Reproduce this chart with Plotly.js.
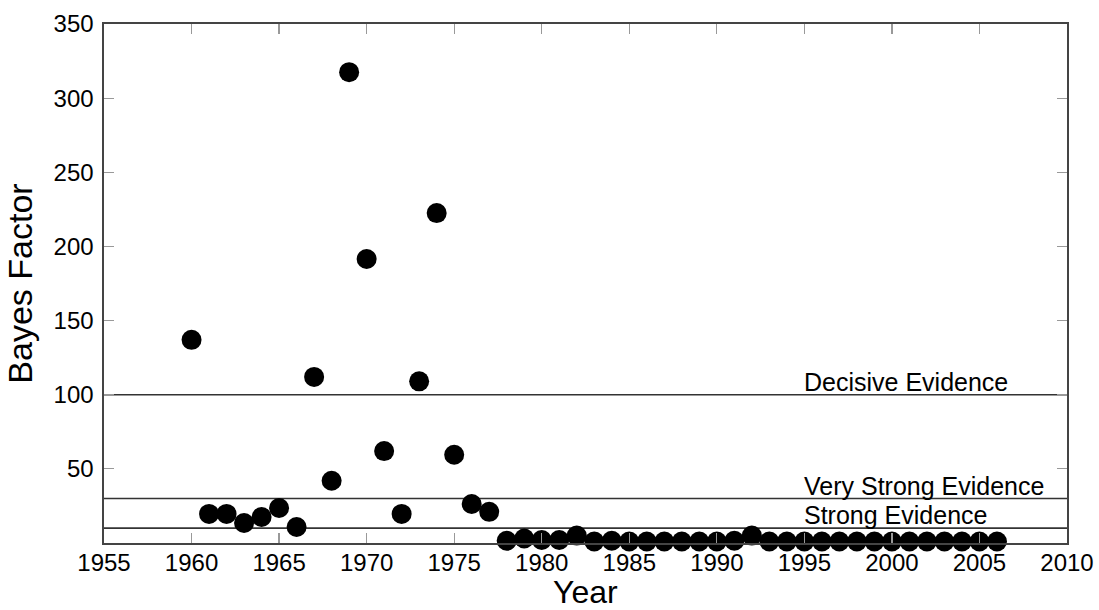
<!DOCTYPE html>
<html>
<head>
<meta charset="utf-8">
<script src="https://cdn.plot.ly/plotly-3.0.1.min.js"></script>
<style>html,body{margin:0;padding:0;background:#fff;}#chart{width:1099px;height:610px;}</style>
</head>
<body>
<div id="chart"></div>
<script>
const years = [1960,1961,1962,1963,1964,1965,1966,1967,1968,1969,1970,1971,1972,1973,1974,1975,1976,1977,
  1978,1979,1980,1981,1982,1983,1984,1985,1986,1987,1988,1989,1990,1991,1992,1993,1994,1995,1996,1997,1998,1999,2000,2001,2002,2003,2004,2005,2006];
const bayesFactor = [137,19.6,19.6,13.5,17.5,23.6,10.8,112,42,317.5,191.5,62,19.6,109,222.5,59.5,26.3,21,
  1.5,3,2,2,5,1,1.5,1,1,1,1,1,1,1.5,5,1,1,1,1,1,1,1,1,1,1,1,1,1,1];
const thresholds = [100, 30, 10];
const thresholdLabels = ["Decisive Evidence", "Very Strong Evidence", "Strong Evidence"];
const labelYear = 1995;
const xTicks = [1955,1960,1965,1970,1975,1980,1985,1990,1995,2000,2005,2010];
const yTicks = [50,100,150,200,250,300,350];

const font = "Liberation Sans, Arial, Helvetica, sans-serif";

const traces = [{
  x: years, y: bayesFactor, type: 'scatter', mode: 'markers',
  marker: {size: 20, color: '#000'}, cliponaxis: false, hoverinfo: 'x+y'
}];

const shapes = thresholds.map(v => ({
  type: 'line', xref: 'paper', x0: 0, x1: 1, yref: 'y', y0: v, y1: v,
  line: {color: '#333', width: 1.6}, layer: 'below'
}));

const annotations = thresholds.map((v, i) => ({
  x: labelYear, y: v, xref: 'x', yref: 'y', text: thresholdLabels[i],
  showarrow: false, xanchor: 'left', yanchor: 'middle', yshift: 13, xshift: -2,
  font: {family: font, size: 25, color: '#000'}
}));

const axisCommon = {
  showgrid: false, zeroline: false, showline: true, linecolor: '#444', linewidth: 1.6,
  mirror: 'ticks', ticks: 'inside', ticklen: 10, tickcolor: '#999', tickwidth: 1.2,
  tickfont: {family: font, size: 24, color: '#000'}
};

const layout = {
  width: 1099, height: 610,
  margin: {l: 104, r: 32, t: 24, b: 67},
  paper_bgcolor: '#fff', plot_bgcolor: '#fff',
  showlegend: false,
  font: {family: font, color: '#000'},
  xaxis: Object.assign({}, axisCommon, {
    range: [1955, 2010], tickvals: xTicks, ticktext: xTicks.map(String),
    ticklabelstandoff: -2
  }),
  yaxis: Object.assign({}, axisCommon, {
    range: [0, 350], tickvals: yTicks, ticktext: yTicks.map(String),
    ticklabelstandoff: 4,
    title: {text: 'Bayes Factor', font: {family: font, size: 34, color: '#000'}, standoff: 10}
  }),
  shapes: shapes,
  annotations: annotations.concat([{
    xref: 'paper', yref: 'paper', x: 0.5, y: 0, yshift: -49, xanchor: 'center', yanchor: 'middle',
    text: 'Year', showarrow: false, font: {family: font, size: 32, color: '#000'}
  }])
};

Plotly.newPlot('chart', traces, layout, {displayModeBar: false, staticPlot: true});
</script>
</body>
</html>
